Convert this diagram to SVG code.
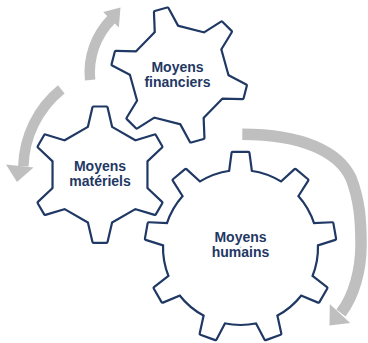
<svg xmlns="http://www.w3.org/2000/svg" xmlns:xlink="http://www.w3.org/1999/xlink" width="368" height="343" viewBox="0 0 368 343">
<style>
.ol{fill:#ffffff;stroke:#1F3864;stroke-width:4.4;stroke-linejoin:round}
.fl{fill:#ffffff;stroke:none}
.lbl{font-family:"Liberation Sans",Arial,sans-serif;font-weight:bold;font-size:14px;fill:#1F3864;text-anchor:middle}
.arc{fill:none;stroke:#BFBFBF;stroke-width:10.5}
.head{fill:#BFBFBF;stroke:none}
</style>
<defs>
<path id="segA" d="M0,0 L-11.14,-47.10 L-6.46,-67.09 L6.46,-67.09 L11.14,-47.10 L35.23,-33.19 L46.36,-13.91 Z"/>
<path id="segB" d="M0,0 L-10.37,-75.69 L-7.87,-94.57 L7.87,-94.57 L10.37,-75.69 A76.4,76.4 0 0 1 40.71,-64.65 L56.60,-51.32 Z"/>
<g id="gearA">
<use xlink:href="#segA"/>
<use xlink:href="#segA" transform="rotate(60)"/>
<use xlink:href="#segA" transform="rotate(120)"/>
<use xlink:href="#segA" transform="rotate(180)"/>
<use xlink:href="#segA" transform="rotate(240)"/>
<use xlink:href="#segA" transform="rotate(300)"/>
</g>
<g id="gearB">
<use xlink:href="#segB"/>
<use xlink:href="#segB" transform="rotate(40)"/>
<use xlink:href="#segB" transform="rotate(80)"/>
<use xlink:href="#segB" transform="rotate(120)"/>
<use xlink:href="#segB" transform="rotate(160)"/>
<use xlink:href="#segB" transform="rotate(200)"/>
<use xlink:href="#segB" transform="rotate(240)"/>
<use xlink:href="#segB" transform="rotate(280)"/>
<use xlink:href="#segB" transform="rotate(320)"/>
</g>
</defs>
<rect width="368" height="343" fill="#ffffff"/>
<g id="arrows">
<path class="arc" d="M90.1,80 A76,76 0 0 1 111.7,19"/>
<polygon class="head" points="103.2,12.0 120.5,7.5 118.8,27.4"/>
<path class="arc" d="M61.3,89.4 A102.5,102.5 0 0 0 23.36,166.4"/>
<polygon class="head" points="6,164.5 17,182 33.5,167.5"/>
<path class="arc" style="stroke-width:11.5" d="M242.3,134.2 C302.3,134.5 338.5,151.3 351,178 C359.5,200 361,220 361,245 C361,270 354,296 341,313"/>
<polygon class="head" points="329.8,303.9 329.5,325.5 350.2,323.1"/>
</g>
<g id="gear-financiers">
<g transform="translate(179.2,75) rotate(-15.5)">
<use xlink:href="#gearA" class="ol"/>
<use xlink:href="#gearA" class="fl"/>
</g>
<text class="lbl" x="177.5" y="72">Moyens</text>
<text class="lbl" x="177.5" y="86.5">financiers</text>
</g>
<g id="gear-materiels">
<g transform="translate(100,174.7)">
<use xlink:href="#gearA" class="ol"/>
<use xlink:href="#gearA" class="fl"/>
</g>
<text class="lbl" x="100" y="171">Moyens</text>
<text class="lbl" x="100" y="185.5">matériels</text>
</g>
<g id="gear-humains">
<g transform="translate(240.5,247.5)">
<use xlink:href="#gearB" class="ol"/>
<use xlink:href="#gearB" class="fl"/>
</g>
<text class="lbl" x="240.5" y="242">Moyens</text>
<text class="lbl" x="240.5" y="256.5">humains</text>
</g>
</svg>
